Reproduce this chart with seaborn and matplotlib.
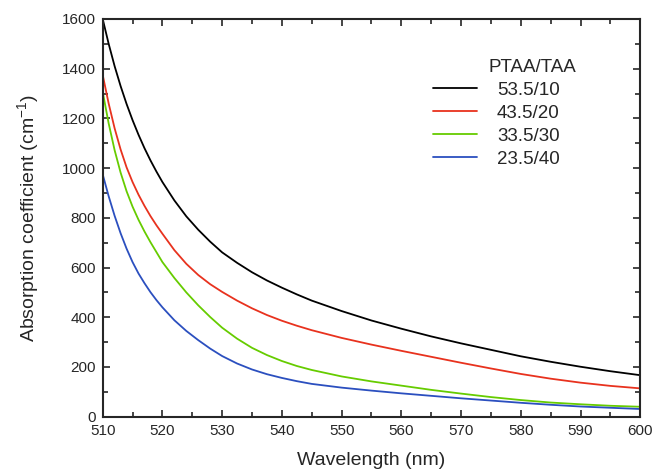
import numpy as np
import pandas as pd
import matplotlib.pyplot as plt
import seaborn as sns
from matplotlib.ticker import MultipleLocator

# values
wavelength = [510, 511, 512, 513, 514, 515, 516, 517, 518, 519, 520, 522, 524, 526, 528, 530,
              532.5, 535, 537.5, 540, 542.5, 545, 550, 555, 560, 565, 570, 575, 580, 585, 590, 595, 600]

abs_53_10 = [1600, 1500, 1410, 1330, 1258, 1193, 1134, 1080, 1031, 986, 944, 870, 806, 752, 704, 661,
             619, 581, 548, 519, 492, 467, 425, 387, 354, 323, 295, 269, 243, 221, 201, 183, 167]
abs_43_20 = [1375, 1260, 1160, 1075, 1003, 944, 893, 848, 807, 770, 736, 670, 615, 570, 533, 502,
             467, 436, 409, 386, 366, 348, 317, 290, 265, 241, 217, 194, 172, 153, 137, 124, 114]
abs_33_30 = [1307, 1180, 1072, 982, 907, 845, 792, 745, 702, 662, 622, 558, 500, 448, 401, 358,
             314, 277, 248, 224, 204, 188, 162, 142, 125, 108, 93, 79, 67, 57, 50, 44, 40]
abs_23_40 = [975, 887, 808, 738, 676, 622, 576, 537, 501, 469, 440, 388, 345, 308, 274, 244,
             214, 190, 171, 156, 143, 132, 117, 105, 94, 84, 74, 65, 56, 48, 41, 36, 31]

labels = ["53.5/10", "43.5/20", "33.5/30", "23.5/40"]
colors = ["#000000", "#e8321e", "#66cc00", "#2b4fbf"]

df = pd.DataFrame({"Wavelength": wavelength,
                   "53.5/10": abs_53_10,
                   "43.5/20": abs_43_20,
                   "33.5/30": abs_33_30,
                   "23.5/40": abs_23_40})

sns.set_style("ticks")
plt.rcParams["font.family"] = ["Liberation Sans", "DejaVu Sans"]
plt.rcParams["mathtext.fontset"] = "custom"
plt.rcParams["mathtext.rm"] = "Liberation Sans"

fig = plt.figure(figsize=(6.54, 4.73), dpi=100)
ax = fig.add_axes([0.157, 0.119, 0.822, 0.841])

for lab, col in zip(labels, colors):
    sns.lineplot(data=df, x="Wavelength", y=lab, color=col, linewidth=1.3, label=lab, ax=ax)

ax.set_xlim(510, 600)
ax.set_ylim(0, 1600)
ax.xaxis.set_major_locator(MultipleLocator(10))
ax.xaxis.set_minor_locator(MultipleLocator(5))
ax.yaxis.set_major_locator(MultipleLocator(200))
ax.yaxis.set_minor_locator(MultipleLocator(100))
ax.tick_params(which="both", direction="in", top=True, right=True, width=1.2, labelsize=11, pad=5)
ax.tick_params(which="major", length=5)
ax.tick_params(which="minor", length=3.5)
for s in ax.spines.values():
    s.set_linewidth(1.5)

ax.set_xlabel("Wavelength (nm)", fontsize=14, labelpad=10)
ax.set_ylabel("Absorption coefficient (cm$^{\\mathregular{-1}}$)", fontsize=14, labelpad=14)

leg = ax.legend(loc="upper left", bbox_to_anchor=(0.615, 0.842), frameon=False, fontsize=13.5,
                handlelength=2.35, handletextpad=1.05, labelspacing=0.31, borderpad=0, borderaxespad=0)
ax.text(0.799, 0.879, "PTAA/TAA", transform=ax.transAxes, ha="center", va="center", fontsize=13.5)

fig.savefig("out.png", dpi=100)
